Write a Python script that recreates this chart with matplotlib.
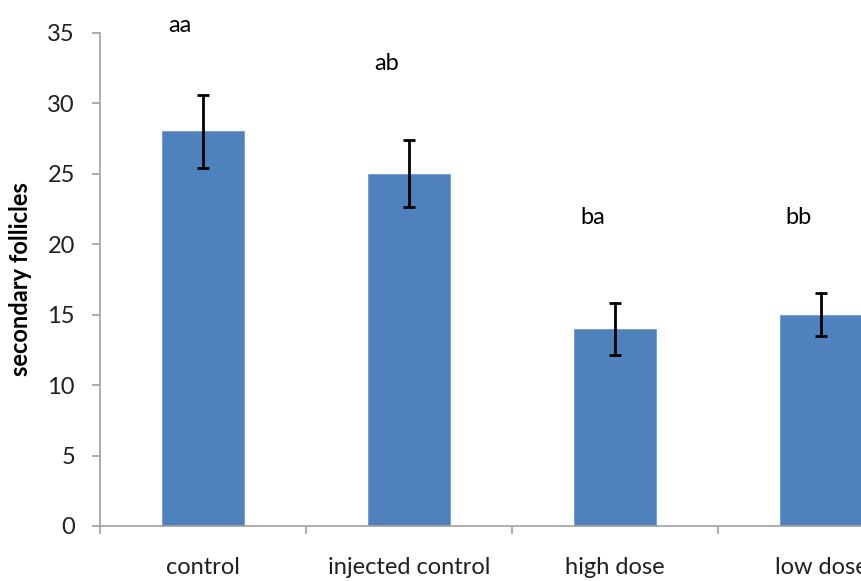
import matplotlib
matplotlib.use("Agg")
import matplotlib.pyplot as plt
import numpy as np

categories = ["control", "injected control", "high dose", "low dose"]
values = [28, 25, 14, 15]
errors = [2.6, 2.4, 1.85, 1.5]
letters = ["aa", "ab", "ba", "bb"]
letter_y = [35.5, 32.8, 21.9, 21.9]

plt.rcParams['font.family'] = ['Lato', 'DejaVu Sans']

fig = plt.figure(figsize=(8.61, 5.81), dpi=100)
ax = fig.add_axes([100/861, 55/581, 824/861, (526-32.7)/581])

x = np.arange(len(categories)) + 0.5
ax.bar(x, values, width=0.4, color="#4F81BD", edgecolor="#6E9AD0", linewidth=0.6, zorder=2)
ax.errorbar(x, values, yerr=errors, fmt="none", ecolor="black", elinewidth=2,
            capsize=4.3, capthick=2, zorder=3)

for xi, lab, ly in zip(x, letters, letter_y):
    ax.text(xi - 0.11, ly, lab, ha="center", va="center", fontsize=17, color="black")

ax.set_xlim(0, 4)
ax.set_ylim(0, 35)
ax.set_yticks(np.arange(0, 36, 5))
ax.set_xticks(np.arange(0, 5, 1))
ax.set_xticklabels([])
ax.set_xticks(x, minor=True)
ax.set_xticklabels(categories, minor=True)

for s in ["top", "right"]:
    ax.spines[s].set_visible(False)
for s in ["left", "bottom"]:
    ax.spines[s].set_color("#A0A0A0")
    ax.spines[s].set_linewidth(1.2)

ax.tick_params(axis="y", which="major", direction="out", length=6, width=1.2,
               color="#A0A0A0", labelsize=17, pad=12, labelcolor="#202020")
ax.tick_params(axis="x", which="major", direction="out", length=6, width=1.2,
               color="#A0A0A0")
ax.tick_params(axis="x", which="minor", length=0, labelsize=17, pad=22, labelcolor="#202020")

ax.set_ylabel("secondary follicles", fontsize=17, fontweight="bold", labelpad=11)

fig.savefig("out.png", dpi=100)
